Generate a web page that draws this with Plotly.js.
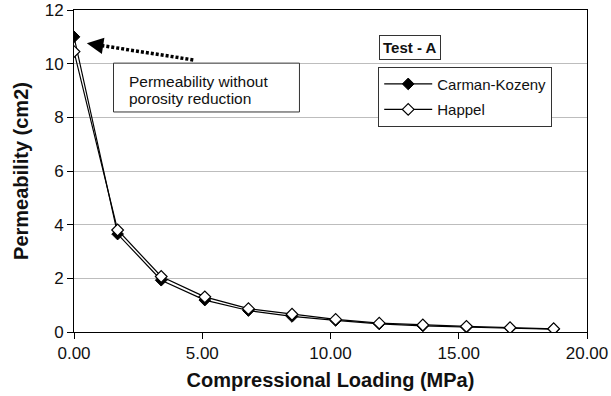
<!DOCTYPE html>
<html>
<head>
<meta charset="utf-8">
<script src="https://cdn.plot.ly/plotly-3.0.1.min.js"></script>
<style>
  html, body { margin: 0; padding: 0; background: #ffffff; }
  #chart { width: 611px; height: 396px; }
</style>
</head>
<body>
<div id="chart"></div>
<script>
// Compressional loading (MPa) applied in each step
const loading = [0, 1.7, 3.4, 5.1, 6.8, 8.5, 10.2, 11.9, 13.6, 15.3, 17.0, 18.7];
// Permeability (cm2) from the two models
const carmanKozeny = [11.0, 3.65, 1.93, 1.19, 0.80, 0.58, 0.43, 0.30, 0.23, 0.18, 0.14, 0.11];
const happel = [10.45, 3.8, 2.07, 1.31, 0.87, 0.66, 0.47, 0.33, 0.26, 0.21, 0.16, 0.12];

const xTicks = [0, 5, 10, 15, 20];
const yTicks = [0, 2, 4, 6, 8, 10, 12];

const FONT = 'Liberation Sans, Arial, sans-serif';
const INK = '#111111';

const traces = [
  {
    x: loading, y: carmanKozeny, name: 'Carman-Kozeny', legendgroup: 'ck',
    type: 'scatter', mode: 'lines+markers',
    line: { color: '#000000', width: 1.2 },
    marker: { symbol: 'diamond', size: 9, color: '#000000', line: { color: '#000000', width: 1 } }
  },
  {
    x: loading, y: happel, name: 'Happel', legendgroup: 'hp',
    type: 'scatter', mode: 'lines+markers',
    line: { color: '#000000', width: 1.2 },
    marker: { symbol: 'diamond', size: 9, color: '#ffffff', line: { color: '#000000', width: 1.2 } }
  }
];

const layout = {
  width: 611, height: 396,
  margin: { l: 74, r: 24, t: 10, b: 64, pad: 0 },
  paper_bgcolor: '#ffffff', plot_bgcolor: '#ffffff',
  font: { family: FONT, color: INK, size: 16 },
  showlegend: true,
  legend: {
    x: 0.593, y: 0.824, xanchor: 'left', yanchor: 'top',
    bgcolor: '#ffffff', bordercolor: '#333333', borderwidth: 1,
    font: { family: FONT, size: 15, color: INK },
    itemwidth: 48, tracegroupgap: 3, traceorder: 'grouped'
  },
  xaxis: {
    range: [0, 20], tickvals: xTicks, tickformat: '.2f',
    showgrid: false, zeroline: false,
    showline: true, linecolor: '#000000', linewidth: 1, mirror: true,
    ticks: 'outside', ticklen: 6, tickcolor: '#000000',
    tickfont: { family: FONT, size: 17, color: INK },
    title: { text: '<b>Compressional Loading (MPa)</b>', font: { family: FONT, size: 20, color: INK }, standoff: 10 }
  },
  yaxis: {
    range: [0, 12], tickvals: yTicks,
    showgrid: true, gridcolor: '#bdbdbd', gridwidth: 1, zeroline: false,
    showline: true, linecolor: '#000000', linewidth: 1, mirror: true,
    ticks: 'outside', ticklen: 6, tickcolor: '#000000',
    tickfont: { family: FONT, size: 17, color: INK },
    title: { text: '<b>Permeability (cm2)</b>', font: { family: FONT, size: 20, color: INK }, standoff: 10 }
  },
  shapes: [
    // dotted arrow shaft
    { type: 'line', xref: 'x', yref: 'y', x0: 4.65, y0: 10.14, x1: 0.9, y1: 10.7,
      line: { color: '#000000', width: 3.5, dash: '3px,2px' } },
    // frame of the note
    { type: 'rect', xref: 'x', yref: 'y', x0: 1.54, x1: 8.79, y0: 8.2, y1: 10.02,
      fillcolor: '#ffffff', line: { color: '#333333', width: 1 }, layer: 'above' }
  ],
  annotations: [
    // arrow head
    { xref: 'x', yref: 'y', x: 0.5, y: 10.76, ax: 11, ay: 1.7, text: '',
      showarrow: true, arrowhead: 2, arrowsize: 1.1, arrowwidth: 3, arrowcolor: '#000000', standoff: 0 },
    { xref: 'x', yref: 'y', x: 2.08, y: 9.33, xanchor: 'left', yanchor: 'middle',
      text: 'Permeability without', showarrow: false, font: { family: FONT, size: 15.5, color: INK } },
    { xref: 'x', yref: 'y', x: 2.08, y: 8.72, xanchor: 'left', yanchor: 'middle',
      text: 'porosity reduction', showarrow: false, font: { family: FONT, size: 15.5, color: INK } },
    { xref: 'paper', yref: 'paper', x: 0.595, y: 0.922, xanchor: 'left', yanchor: 'top',
      text: '<b>Test - A</b>', showarrow: false, font: { family: FONT, size: 15, color: INK },
      bgcolor: '#ffffff', bordercolor: '#333333', borderwidth: 1, borderpad: 3 }
  ]
};

Plotly.newPlot('chart', traces, layout, { staticPlot: true, displayModeBar: false });
</script>
</body>
</html>
